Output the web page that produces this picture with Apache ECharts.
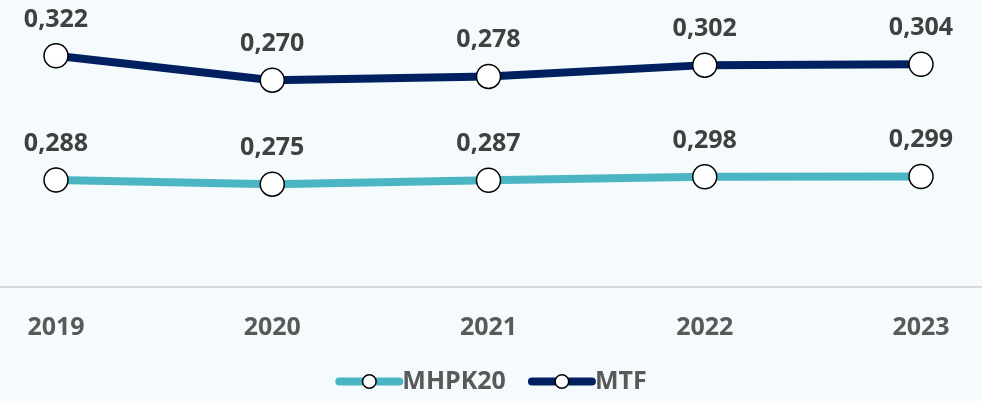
<!DOCTYPE html>
<html>
<head>
<meta charset="utf-8">
<script src="https://cdn.jsdelivr.net/npm/echarts@6/dist/echarts.min.js"></script>
<style>
  html, body { margin: 0; padding: 0; background: #f5fbfc; }
  #chart { width: 982px; height: 401px; }
</style>
</head>
<body>
<div id="chart"></div>
<script>
const years = ['2019', '2020', '2021', '2022', '2023']
const mhpk20 = [0.288, 0.275, 0.287, 0.298, 0.299]
const mtf = [0.322, 0.270, 0.278, 0.302, 0.304]

const font = '"Open Sans", "Noto Sans", sans-serif'
const fmt = (p) => p.value.toFixed(3).replace('.', ',')

const labelStyle = {
  show: true,
  position: 'top',
  distance: 11,
  formatter: fmt,
  fontFamily: font,
  fontWeight: 'bold',
  fontSize: 25,
  color: '#404040',
}

const chart = echarts.init(document.getElementById('chart'))
chart.setOption({
  backgroundColor: '#f5fbfc',
  animation: false,
  grid: { left: 56, right: 61, top: 20, bottom: 114 },
  legend: {
    bottom: 2,
    left: 'center',
    itemWidth: 60,
    itemHeight: 17,
    itemGap: 22,
    data: ['MHPK20', 'MTF'],
    lineStyle: { width: 8, cap: 'round' },
    itemStyle: { borderWidth: 1.5, borderColor: '#000000', color: '#ffffff' },
    textStyle: { fontFamily: font, fontWeight: 'bold', fontSize: 25, color: '#595959', padding: [0, 0, 0, -2] },
  },
  xAxis: {
    type: 'category',
    data: years,
    boundaryGap: false,
    axisLine: { show: false },
    axisTick: { show: false },
    axisLabel: { margin: 28, fontFamily: font, fontWeight: 'bold', fontSize: 25, color: '#595959' },
  },
  yAxis: [
    { type: 'value', show: false, min: -0.047, max: 0.789, splitLine: { show: false } },
    { type: 'value', show: false, min: -0.170, max: 0.398, splitLine: { show: false } },
  ],
  graphic: [{
    type: 'line',
    shape: { x1: 0, y1: 287, x2: 982, y2: 287 },
    style: { stroke: '#d9d9d9', lineWidth: 2 },
  }],
  series: [
    {
      name: 'MHPK20',
      type: 'line',
      yAxisIndex: 0,
      data: mhpk20,
      symbol: 'circle',
      symbolSize: 24,
      lineStyle: { color: '#4bb5c4', width: 8 },
      itemStyle: { color: '#ffffff', borderColor: '#000000', borderWidth: 1.5 },
      emphasis: { disabled: true },
      label: labelStyle,
      z: 3,
    },
    {
      name: 'MTF',
      type: 'line',
      yAxisIndex: 1,
      data: mtf,
      symbol: 'circle',
      symbolSize: 24,
      lineStyle: { color: '#002060', width: 8 },
      itemStyle: { color: '#ffffff', borderColor: '#000000', borderWidth: 1.5 },
      emphasis: { disabled: true },
      label: labelStyle,
      z: 3,
    },
  ],
})
</script>
</body>
</html>
